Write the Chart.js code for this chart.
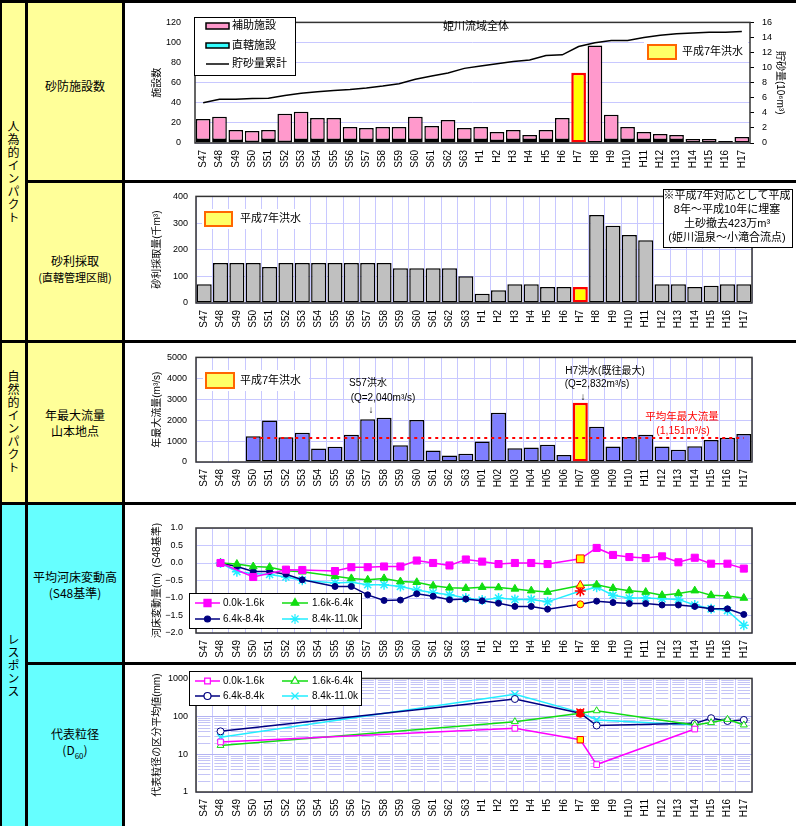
<!DOCTYPE html>
<html lang="ja">
<head>
<meta charset="utf-8">
<title>姫川 インパクトとレスポンス</title>
<script src="https://cdn.jsdelivr.net/npm/chart.js"></script>
<style>
    body { margin: 0; width: 796px; height: 826px; position: relative; overflow: hidden; background: #fff;
           font-family: "Noto Sans CJK JP", "Liberation Sans", sans-serif; color: #000; }
    .bg { position: absolute; }
    .rule { position: absolute; background: #000; }
    .tate { position: absolute; left: 2px; width: 23px; line-height: 23px; writing-mode: vertical-rl;
            font-size: 12px; letter-spacing: 1px; transform: translateY(-50%); }
    .midashi { position: absolute; left: 28px; width: 94px; text-align: center; font-size: 12px;
               line-height: 16px; transform: translateY(-50%); }
    .midashi small { font-size: 11px; }
    .midashi sub { font-size: 8px; }
    .panel { position: absolute; left: 125px; width: 671px; }
</style>
</head>
<body>
<div class="bg" style="left:0;top:0;width:125px;height:503px;background:#FFFF99"></div>
<div class="bg" style="left:0;top:503px;width:125px;height:323px;background:#66FFFF"></div>

<div class="tate" style="top:172px">人為的インパクト</div>
<div class="tate" style="top:422px">自然的インパクト</div>
<div class="tate" style="top:666px">レスポンス</div>

<div class="midashi" style="top:86px">砂防施設数</div>
<div class="midashi" style="top:269px">砂利採取<br><small>(直轄管理区間)</small></div>
<div class="midashi" style="top:423px">年最大流量<br>山本地点</div>
<div class="midashi" style="top:585px">平均河床変動高<br>(S48基準)</div>
<div class="midashi" style="top:745px">代表粒径<br>(D<sub>60</sub>)</div>

<div class="panel" style="top:3px;height:177px"><canvas id="g-sabo"></canvas></div>
<div class="panel" style="top:183px;height:157px"><canvas id="g-jari"></canvas></div>
<div class="panel" style="top:343px;height:159px"><canvas id="g-ryuryo"></canvas></div>
<div class="panel" style="top:505px;height:157px"><canvas id="g-kasho"></canvas></div>
<div class="panel" style="top:665px;height:161px"><canvas id="g-ryukei"></canvas></div>

<div class="rule" style="left:0;top:0;width:796px;height:3px"></div>
<div class="rule" style="left:25px;top:180px;width:771px;height:3px"></div>
<div class="rule" style="left:0;top:340px;width:796px;height:3px"></div>
<div class="rule" style="left:0;top:502px;width:796px;height:3px"></div>
<div class="rule" style="left:25px;top:662px;width:771px;height:3px"></div>
<div class="rule" style="left:0;top:0;width:2px;height:826px"></div>
<div class="rule" style="left:25px;top:0;width:3px;height:826px"></div>
<div class="rule" style="left:122px;top:0;width:3px;height:826px"></div>

<script>
// 年次ラベル
const years = ['S47','S48','S49','S50','S51','S52','S53','S54','S55','S56','S57','S58','S59','S60','S61','S62','S63',
               'H1','H2','H3','H4','H5','H6','H7','H8','H9','H10','H11','H12','H13','H14','H15','H16','H17'];
const yearsFlow = ['S47','S48','S49','S50','S51','S52','S53','S54','S55','S56','S57','S58','S59','S60','S61','S62','S63',
                   'H01','H02','H03','H04','H05','H06','H07','H08','H09','H10','H11','H12','H13','H14','H15','H16','H17'];

// 砂防施設数
const hojoShisetsu      = [21,23,11,11,10,28,28,22,22,13,12,13,13,23,14,20,12,13,9,10,5,10,22,70,97,25,13,8,6,5,4,4,0,6];
const chokkatsuShisetsu = [3,3,2,1,3,1,3,3,3,3,3,3,3,3,3,3,3,3,2,3,3,3,3,0,0,3,3,3,3,3,0,0,2,0];
const choshaRuikei      = [5.35,5.8,5.8,5.9,5.95,6.3,6.6,6.8,6.95,7.1,7.3,7.55,7.85,8.45,8.9,9.3,9.9,10.2,10.5,10.8,11.0,11.6,11.7,
                           12.8,13.3,13.6,13.6,14.0,14.3,14.5,14.6,14.7,14.7,14.8];

// 砂利採取量
const jariSaishu = [70,150,150,150,135,150,150,150,150,150,150,150,130,130,130,130,100,35,48,70,70,60,60,60,330,290,255,235,70,70,60,65,70,70];

// 年最大流量
const nenSaidaiRyuryo = [null,null,null,1230,1980,1180,1400,640,730,1300,2040,2120,800,2010,550,310,390,980,2360,660,690,830,330,
                         2832,1690,740,1200,1300,740,580,750,1050,1160,1340];
const heikinRyuryo = 1151;

// 平均河床変動高
const henka00_16 = [null,0,null,-0.40,null,-0.19,-0.20,null,-0.23,-0.12,-0.12,-0.10,-0.10,0.07,0.0,-0.07,0.10,0.04,-0.03,0.0,0.0,-0.03,null,
                    0.12,0.43,0.23,0.17,0.14,0.19,0.02,0.15,-0.02,-0.02,-0.16];
const henka16_64 = [null,0,-0.03,-0.10,-0.12,-0.22,-0.25,null,-0.38,-0.44,-0.48,-0.44,-0.53,-0.55,-0.65,-0.71,-0.72,-0.69,-0.70,-0.74,-0.79,-0.83,null,
                    -0.64,-0.62,-0.72,-0.79,-0.83,-0.92,-0.87,-0.79,-0.92,-0.94,-1.00];
const henka64_84 = [null,0,-0.10,-0.24,-0.24,-0.32,-0.48,null,-0.67,-0.67,-0.91,-1.07,-1.06,-0.88,-0.95,-1.05,-1.03,-1.08,-1.15,-1.24,-1.24,-1.32,null,
                    -1.18,-1.09,-1.13,-1.16,-1.16,-1.20,-1.20,-1.24,-1.31,-1.31,-1.47];
const henka84_110 = [null,0,-0.25,-0.30,-0.33,-0.40,-0.49,null,-0.57,-0.55,-0.62,-0.62,-0.67,-0.77,-0.85,-0.91,-1.00,-1.06,-1.00,-1.04,-1.04,-1.11,null,
                     -0.80,-0.69,-0.92,-1.00,-1.00,-1.02,-1.04,-1.20,-1.31,-1.36,-1.78];

// 代表粒径 D60 (mm)
const ryukei00_16 = [null,21,null,null,null,null,null,null,null,null,null,null,null,null,null,null,null,null,null,48,null,null,null,
                     24,5.3,null,null,null,null,null,46,null,null,null];
const ryukei16_64 = [null,17,null,null,null,null,null,null,null,null,null,null,null,null,null,null,null,null,null,72,null,null,null,
                     120,140,null,null,null,null,null,59,68,83,59];
const ryukei64_84 = [null,40,null,null,null,null,null,null,null,null,null,null,null,null,null,null,null,null,null,286,null,null,null,
                     120,57,null,null,null,null,null,65,89,75,80];
const ryukei84_110 = [null,28,null,null,null,null,null,null,null,null,null,null,null,null,null,null,null,null,null,380,null,null,null,
                      127,80,null,null,null,null,null,59,null,null,null];

const FONT = '"Liberation Sans", "Noto Sans CJK JP", sans-serif';
const GRID = '#C8C8FF';
const H7 = years.indexOf('H7');

Chart.defaults.font.family = FONT;
Chart.defaults.font.size = 10;
Chart.defaults.color = '#000';
Chart.defaults.animation = false;
Chart.defaults.events = [];
Chart.defaults.plugins.legend.display = false;
Chart.defaults.plugins.tooltip.enabled = false;

function h7Style(normal, flood) {
    return years.map(function (y, i) { return i === H7 ? flood : normal; });
}

function plainTick(v) { return String(v); }

function xAxis(height, showGrid) {
    return {
        type: 'category',
        offset: true,
        grid: { display: showGrid, color: GRID, offset: true, drawTicks: false },
        border: { display: false },
        ticks: { minRotation: 90, maxRotation: 90, autoSkip: false, padding: 7, font: { size: 10 } },
        afterFit: function (scale) { scale.height = height; }
    };
}

function leftAxis(width, title, extra) {
    return Object.assign({
        grid: { color: GRID, drawTicks: false },
        border: { display: false },
        title: { display: true, text: title, font: { size: 10 }, padding: 0 },
        afterFit: function (scale) { scale.width = width; }
    }, extra);
}

/* marcadores propios para las leyendas */
function drawMarker(ctx, style, x, y, r, fill, stroke, lw) {
    ctx.save();
    ctx.fillStyle = fill;
    ctx.strokeStyle = stroke;
    ctx.lineWidth = lw;
    ctx.beginPath();
    if (style === 'rect') {
        const s = r * Math.SQRT1_2;
        ctx.rect(x - s, y - s, 2 * s, 2 * s);
        ctx.fill(); ctx.stroke();
    } else if (style === 'triangle') {
        for (let k = 0; k < 3; k++) {
            const a = k * 2 * Math.PI / 3;
            const px = x + Math.sin(a) * r, py = y - Math.cos(a) * r;
            if (k === 0) ctx.moveTo(px, py); else ctx.lineTo(px, py);
        }
        ctx.closePath();
        ctx.fill(); ctx.stroke();
    } else if (style === 'circle') {
        ctx.arc(x, y, r, 0, 2 * Math.PI);
        ctx.fill(); ctx.stroke();
    } else if (style === 'star' || style === 'crossRot') {
        const d = r * Math.SQRT1_2;
        ctx.moveTo(x - d, y - d); ctx.lineTo(x + d, y + d);
        ctx.moveTo(x - d, y + d); ctx.lineTo(x + d, y - d);
        if (style === 'star') {
            ctx.moveTo(x, y - r); ctx.lineTo(x, y + r);
            ctx.moveTo(x - r, y); ctx.lineTo(x + r, y);
        }
        ctx.stroke();
    }
    ctx.restore();
}

function lineItems(open) {
    const bg = function (c) { return open ? '#fff' : c; };
    const cols = [[70, 95, 82.5, 98], [157, 183, 170, 187]];
    const series = [
        { c: '#FF00FF', m: 'rect', r: open ? 4 : 5, t: '0.0k-1.6k', col: 0, row: 0 },
        { c: '#11DD11', m: 'triangle', r: 4.5, t: '1.6k-6.4k', col: 1, row: 0 },
        { c: '#000080', m: 'circle', r: open ? 3.5 : 3, t: '6.4k-8.4k', col: 0, row: 1 },
        { c: '#22EEFF', m: open ? 'crossRot' : 'star', r: 5, t: '8.4k-11.0k', col: 1, row: 1 }
    ];
    return series.map(function (s) {
        const k = cols[s.col];
        return { kind: 'line', x1: k[0], x2: k[1], mx: k[2], row: s.row, color: s.c, lw: 1.5,
                 marker: s.m, r: s.r, fill: bg(s.c), text: s.t, tx: k[3] };
    });
}

const decorations = {
    'g-sabo': {
        legends: [
            { box: [69, 14, 101, 58], size: 11, items: [
                { kind: 'rect', x: 81, y: 20, w: 23, h: 6, fill: '#FF99CC', stroke: '#000', lw: 1.5, text: '補助施設', tx: 107, ty: 23 },
                { kind: 'rect', x: 81, y: 40, w: 23, h: 5, fill: '#33FFFF', stroke: '#000', lw: 1.5, text: '直轄施設', tx: 107, ty: 43 },
                { kind: 'line', x1: 81, x2: 104, y: 61, color: '#000', lw: 1.5, text: '貯砂量累計', tx: 107, ty: 61 }
            ] },
            { bg: [519, 39, 104, 20], size: 11, items: [
                { kind: 'rect', x: 523, y: 42, w: 28, h: 14, fill: '#FFFF66', stroke: '#FF6600', lw: 2, text: '平成7年洪水', tx: 557, ty: 49 }
            ] }
        ],
        texts: [{ text: '姫川流域全体', x: 318, y: 24, size: 11, align: 'left' }]
    },
    'g-jari': {
        legends: [
            { bg: [77, 26, 107, 20], size: 11, items: [
                { kind: 'rect', x: 80, y: 29, w: 27, h: 14, fill: '#FFFF66', stroke: '#FF6600', lw: 2, text: '平成7年洪水', tx: 115, ty: 36 }
            ] },
            { box: [538, 6, 129, 58], items: [] }
        ],
        texts: [
            { text: '※平成7年対応として平成', x: 602, y: 13, size: 11, align: 'center' },
            { text: '8年～平成10年に埋塞', x: 602, y: 27, size: 11, align: 'center' },
            { text: '土砂撤去423万m³', x: 602, y: 41, size: 11, align: 'center' },
            { text: '(姫川温泉～小滝合流点)', x: 602, y: 55, size: 11, align: 'center' }
        ]
    },
    'g-ryuryo': {
        legends: [
            { bg: [78, 27, 106, 21], size: 11, items: [
                { kind: 'rect', x: 81, y: 30, w: 28, h: 15, fill: '#FFFF66', stroke: '#FF6600', lw: 2, text: '平成7年洪水', tx: 115, ty: 38 }
            ] }
        ],
        texts: [
            { text: 'S57洪水', x: 243, y: 40, size: 10, align: 'center' },
            { text: '(Q=2,040m³/s)', x: 258, y: 55, size: 10, align: 'center' },
            { text: '↓', x: 246, y: 67, size: 10, align: 'center' },
            { text: 'H7洪水(既往最大)', x: 480, y: 28, size: 10, align: 'center' },
            { text: '(Q=2,832m³/s)', x: 472, y: 41, size: 10, align: 'center' },
            { text: '↓', x: 458, y: 54, size: 10, align: 'center' },
            { text: '平均年最大流量', x: 557, y: 74, size: 10.5, align: 'center', color: '#FF0000' },
            { text: '(1,151m³/s)', x: 558, y: 88, size: 10.5, align: 'center', color: '#FF0000' }
        ]
    },
    'g-kasho': {
        legends: [{ box: [64, 88, 172, 35], size: 10, rows: [98, 114], items: lineItems(false) }]
    },
    'g-ryukei': {
        minorLog: true,
        legends: [{ box: [64, 6, 172, 34], size: 10, rows: [16, 31], items: lineItems(true) }]
    }
};

const panelPlugin = {
    id: 'panelDeco',
    beforeDatasetsDraw: function (chart) {
        const deco = decorations[chart.canvas.id];
        if (!deco || !deco.minorLog) return;
        const ctx = chart.ctx, a = chart.chartArea, y = chart.scales.y;
        const cw = (a.right - a.left) / years.length;
        ctx.save();
        ctx.strokeStyle = '#C4C4F6';
        ctx.lineWidth = 1;
        ctx.setLineDash([cw - 4, 4]);
        ctx.lineDashOffset = -2;
        [1, 10, 100].forEach(function (d) {
            for (let k = 2; k <= 9; k++) {
                const py = Math.round(y.getPixelForValue(d * k)) + 0.5;
                ctx.beginPath();
                ctx.moveTo(a.left, py);
                ctx.lineTo(a.right, py);
                ctx.stroke();
            }
        });
        ctx.restore();
    },
    afterDatasetsDraw: function (chart) {
        const ctx = chart.ctx, a = chart.chartArea;
        ctx.save();
        ctx.strokeStyle = '#333';
        ctx.lineWidth = 1.5;
        ctx.strokeRect(a.left, a.top, a.right - a.left, a.bottom - a.top);
        ctx.restore();
    },
    afterDraw: function (chart) {
        const deco = decorations[chart.canvas.id];
        if (!deco) return;
        const ctx = chart.ctx;
        ctx.save();
        (deco.legends || []).forEach(function (lg) {
            if (lg.bg) {
                ctx.fillStyle = '#fff';
                ctx.fillRect(lg.bg[0], lg.bg[1], lg.bg[2], lg.bg[3]);
            }
            if (lg.box) {
                ctx.fillStyle = '#fff';
                ctx.fillRect(lg.box[0], lg.box[1], lg.box[2], lg.box[3]);
                ctx.strokeStyle = '#000';
                ctx.lineWidth = 1;
                ctx.strokeRect(lg.box[0] + 0.5, lg.box[1] + 0.5, lg.box[2], lg.box[3]);
            }
            lg.items.forEach(function (it) {
                let ty = it.ty;
                if (it.kind === 'rect') {
                    ctx.fillStyle = it.fill;
                    ctx.fillRect(it.x, it.y, it.w, it.h);
                    ctx.strokeStyle = it.stroke;
                    ctx.lineWidth = it.lw;
                    ctx.strokeRect(it.x, it.y, it.w, it.h);
                } else {
                    const y = it.row !== undefined ? lg.rows[it.row] : it.y;
                    ty = y;
                    ctx.strokeStyle = it.color;
                    ctx.lineWidth = it.lw;
                    ctx.beginPath();
                    ctx.moveTo(it.x1, y);
                    ctx.lineTo(it.x2, y);
                    ctx.stroke();
                    if (it.marker) drawMarker(ctx, it.marker, it.mx, y, it.r, it.fill, it.color, 1.2);
                }
                ctx.fillStyle = '#000';
                ctx.font = (lg.size || 11) + 'px ' + FONT;
                ctx.textAlign = 'left';
                ctx.textBaseline = 'middle';
                ctx.fillText(it.text, it.tx, ty);
            });
        });
        (deco.texts || []).forEach(function (t) {
            ctx.fillStyle = t.color || '#000';
            ctx.font = t.size + 'px ' + FONT;
            ctx.textAlign = t.align;
            ctx.textBaseline = 'middle';
            ctx.fillText(t.text, t.x, t.y);
        });
        ctx.restore();
    }
};
Chart.register(panelPlugin);

const baseOptions = {
    responsive: true,
    maintainAspectRatio: false
};

// 砂防施設数
new Chart(document.getElementById('g-sabo'), {
    type: 'bar',
    data: {
        labels: years,
        datasets: [
            { type: 'line', label: '貯砂量累計', data: choshaRuikei, yAxisID: 'y1', borderColor: '#000',
              borderWidth: 1.5, pointRadius: 0, order: 0 },
            { label: '直轄施設', data: chokkatsuShisetsu, backgroundColor: '#33FFFF', borderColor: '#000',
              borderWidth: 1.2, borderSkipped: false, order: 1,
              categoryPercentage: 0.9, barPercentage: 1 },
            { label: '補助施設', data: hojoShisetsu, backgroundColor: h7Style('#FF99CC', '#FFFF00'),
              borderColor: h7Style('#000', '#FF0000'), borderWidth: h7Style(1.5, 2.5), borderSkipped: false,
              order: 2, categoryPercentage: 0.9, barPercentage: 1 }
        ]
    },
    options: Object.assign({}, baseOptions, {
        layout: { padding: { left: 26, right: 10, top: 12, bottom: 0 } },
        scales: {
            x: Object.assign(xAxis(37, false), { stacked: true }),
            y: leftAxis(44, '施設数', { stacked: true, min: 0, max: 120,
                ticks: { stepSize: 20, padding: 14, font: { size: 9 }, callback: plainTick } }),
            y1: {
                position: 'right', min: 0, max: 16,
                grid: { drawOnChartArea: false, drawTicks: true, tickLength: 4, tickColor: '#000' },
                border: { display: false },
                ticks: { stepSize: 2, padding: 8, font: { size: 9 }, callback: plainTick },
                title: { display: true, text: '貯砂量(10⁶m³)', font: { size: 10 }, padding: 0 },
                afterFit: function (scale) { scale.width = 36; }
            }
        }
    })
});

// 砂利採取量
new Chart(document.getElementById('g-jari'), {
    type: 'bar',
    data: {
        labels: years,
        datasets: [{
            label: '砂利採取量', data: jariSaishu,
            backgroundColor: h7Style('#C0C0C0', '#FFFF00'), borderColor: h7Style('#000', '#FF0000'),
            borderWidth: h7Style(1.5, 2.5), borderSkipped: false, categoryPercentage: 0.92, barPercentage: 1
        }]
    },
    options: Object.assign({}, baseOptions, {
        layout: { padding: { left: 26, right: 44, top: 13, bottom: 0 } },
        scales: {
            x: xAxis(37, true),
            y: leftAxis(45, '砂利採取量(千m³)', { min: 0, max: 400,
                ticks: { stepSize: 50, padding: 8, font: { size: 9 }, callback: plainTick } })
        }
    })
});

// 年最大流量
new Chart(document.getElementById('g-ryuryo'), {
    type: 'bar',
    data: {
        labels: yearsFlow,
        datasets: [
            { type: 'line', label: '平均年最大流量',
              data: nenSaidaiRyuryo.map(function (v) { return v === null ? null : heikinRyuryo; }),
              borderColor: '#FF0000', borderWidth: 2, borderDash: [3, 4], pointRadius: 0, order: 0 },
            { label: '年最大流量', data: nenSaidaiRyuryo,
              backgroundColor: h7Style('#7F7FFF', '#FFFF00'), borderColor: h7Style('#000', '#FF0000'),
              borderWidth: h7Style(1.5, 2.5), borderSkipped: false, order: 1,
              categoryPercentage: 0.92, barPercentage: 1 }
        ]
    },
    options: Object.assign({}, baseOptions, {
        layout: { padding: { left: 26, right: 44, top: 13, bottom: 0 } },
        scales: {
            x: xAxis(40, true),
            y: leftAxis(45, '年最大流量(m³/s)', { min: 0, max: 5000,
                ticks: { stepSize: 1000, padding: 9, font: { size: 9 }, callback: plainTick } })
        }
    })
});

function lineSet(label, data, color, style, radius, open, floodFill) {
    return {
        label: label, data: data, borderColor: color, borderWidth: 1.5, spanGaps: true,
        pointStyle: style,
        pointRadius: h7Style(radius, radius + 0.5),
        pointBorderWidth: style === 'star' || style === 'crossRot' ? 1.5 : 1,
        pointBackgroundColor: h7Style(open ? '#fff' : color, floodFill),
        pointBorderColor: h7Style(color, '#FF0000')
    };
}

// 平均河床変動高
new Chart(document.getElementById('g-kasho'), {
    type: 'line',
    data: {
        labels: years,
        datasets: [
            lineSet('0.0k-1.6k', henka00_16, '#FF00FF', 'rect', 5, false, '#FFFF00'),
            lineSet('1.6k-6.4k', henka16_64, '#11DD11', 'triangle', 4.5, false, '#FFFF00'),
            lineSet('6.4k-8.4k', henka64_84, '#000080', 'circle', 3, false, '#FFFF00'),
            lineSet('8.4k-11.0k', henka84_110, '#22EEFF', 'star', 5, false, '#FF0000')
        ]
    },
    options: Object.assign({}, baseOptions, {
        layout: { padding: { left: 26, right: 44, top: 23, bottom: 0 } },
        scales: {
            x: xAxis(29, true),
            y: leftAxis(45, '河床変動量(m)  (S48基準)', {
                min: -2, max: 1,
                ticks: { stepSize: 0.5, padding: 13, font: { size: 9 },
                         callback: function (v) { return v.toFixed(1).replace('-', '−'); } }
            })
        }
    })
});

// 代表粒径
function isDecade(v) { return [1, 10, 100, 1000].indexOf(v) >= 0; }

new Chart(document.getElementById('g-ryukei'), {
    type: 'line',
    data: {
        labels: years,
        datasets: [
            lineSet('0.0k-1.6k', ryukei00_16, '#FF00FF', 'rect', 4, true, '#FFFF00'),
            lineSet('1.6k-6.4k', ryukei16_64, '#11DD11', 'triangle', 4, true, '#FF0000'),
            lineSet('6.4k-8.4k', ryukei64_84, '#000080', 'circle', 3.5, true, '#FF0000'),
            lineSet('8.4k-11.0k', ryukei84_110, '#22EEFF', 'crossRot', 5, true, '#FF0000')
        ]
    },
    options: Object.assign({}, baseOptions, {
        layout: { padding: { left: 26, right: 44, top: 13, bottom: 0 } },
        scales: {
            x: xAxis(34, true),
            y: {
                type: 'logarithmic', min: 1, max: 1000,
                grid: {
                    drawTicks: false,
                    color: function (ctx) { return ctx.tick && isDecade(ctx.tick.value) ? '#B4B4F2' : 'rgba(0,0,0,0)'; }
                },
                border: { display: false },
                ticks: {
                    autoSkip: false, padding: 8, font: { size: 9 },
                    callback: function (v) { return isDecade(v) ? String(v) : ''; }
                },
                title: { display: true, text: '代表粒径の区分平均値(mm)', font: { size: 10 }, padding: 0 },
                afterFit: function (scale) { scale.width = 45; }
            }
        }
    })
});
</script>
</body>
</html>
